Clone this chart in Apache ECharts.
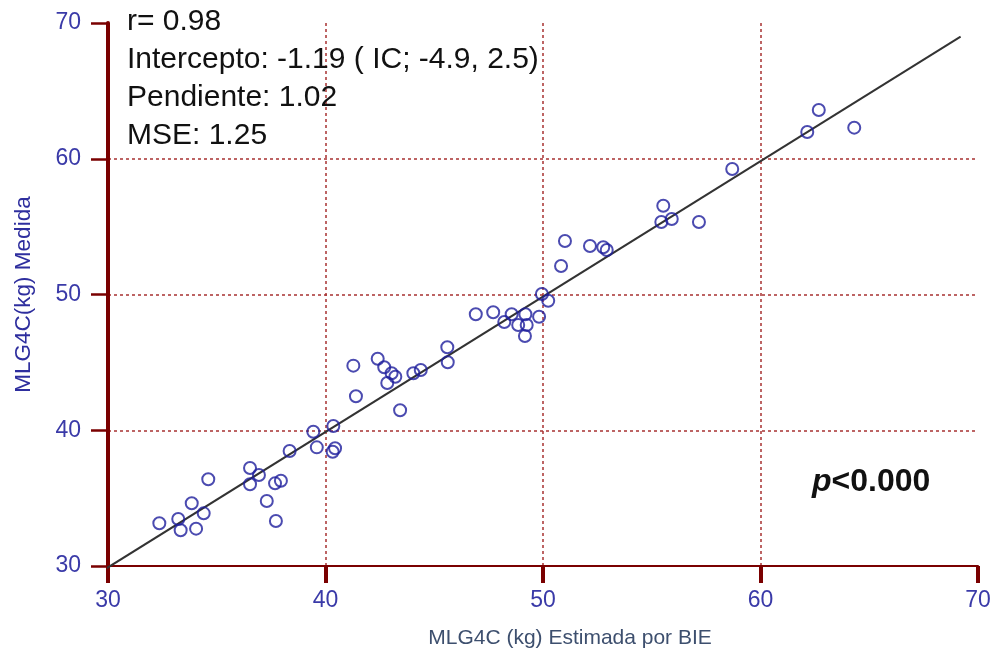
<!DOCTYPE html>
<html>
<head>
<meta charset="utf-8">
<title>MLG4C</title>
<script src="https://cdn.jsdelivr.net/npm/echarts@6/dist/echarts.min.js"></script>
<style>
  html, body { margin: 0; padding: 0; background: #fff; }
  #chart { width: 995px; height: 656px; }
</style>
</head>
<body>
<div id="chart"></div>
<script>
// MLG4C estimada por BIE (x) vs medida (y)
var estimada = [
  32.36, 33.23, 33.34, 33.85, 34.05, 34.40, 34.61, 36.53, 36.53, 36.94,
  37.30, 37.68, 37.95, 37.72, 38.35, 39.44, 39.60, 40.36, 40.33, 40.44,
  41.28, 41.40, 42.40, 42.70, 43.04, 42.84, 43.21, 43.43, 44.04, 44.38,
  45.60, 45.62, 46.91, 47.71, 48.22, 48.56, 48.86, 49.19, 49.25, 49.17,
  49.82, 49.95, 50.24, 51.01, 50.83, 52.16, 52.77, 52.93, 55.53, 55.44,
  55.92, 57.17, 58.70, 62.15, 62.68, 64.31
];
var medida = [
  33.15, 33.46, 32.63, 34.62, 32.75, 33.88, 36.39, 37.22, 36.02, 36.70,
  34.79, 36.09, 36.28, 33.31, 38.47, 39.89, 38.74, 40.31, 38.42, 38.67,
  44.76, 42.50, 45.27, 44.64, 44.20, 43.48, 43.94, 41.47, 44.20, 44.44,
  46.11, 45.01, 48.54, 48.69, 47.97, 48.54, 47.75, 48.54, 47.75, 46.94,
  48.36, 50.04, 49.54, 53.94, 52.10, 53.57, 53.48, 53.28, 56.54, 55.34,
  55.56, 55.34, 59.25, 61.97, 63.59, 62.29
];
// recta de regresion (extremos)
var lineaX = [29.7, 69.2];
var lineaY = [29.6, 69.0];
var estadisticos = [
  "r= 0.98",
  "Intercepto: -1.19 ( IC; -4.9, 2.5)",
  "Pendiente: 1.02",
  "MSE: 1.25"
];

var puntos = [];
for (var i = 0; i < estimada.length; i++) {
  puntos.push([estimada[i], medida[i]]);
}
var recta = [];
for (var j = 0; j < lineaX.length; j++) {
  recta.push([lineaX[j], lineaY[j]]);
}

var axisRed = "#7a0000";
var gridRed = "#a83232";
var labelBlue = "#3a3aa8";
var sans = "'Liberation Sans', Arial, sans-serif";

var chart = echarts.init(document.getElementById("chart"));
var option = {
  animation: false,
  backgroundColor: "#fff",
  grid: {
    left: 108,
    right: 17,
    top: 23,
    bottom: 90,
    containLabel: false,
    outerBoundsMode: "none"
  },
  xAxis: {
    type: "value",
    min: 30,
    max: 70,
    interval: 10,
    name: "MLG4C (kg) Estimada por BIE",
    nameLocation: "middle",
    nameGap: 62,
    nameTextStyle: {
      color: "#3d4f6e",
      fontFamily: sans,
      fontSize: 21,
      padding: [0, 0, 0, 54]
    },
    axisLine: { show: true, lineStyle: { color: axisRed, width: 2 } },
    axisTick: { show: true, length: 17, lineStyle: { color: axisRed, width: 4 } },
    axisLabel: {
      color: labelBlue,
      fontFamily: sans,
      fontSize: 23,
      margin: 23
    },
    splitLine: {
      show: true,
      showMinLine: false,
      showMaxLine: false,
      lineStyle: { color: gridRed, width: 1.5, type: [3, 3] }
    }
  },
  yAxis: {
    type: "value",
    min: 30,
    max: 70,
    interval: 10,
    name: "MLG4C(kg) Medida",
    nameLocation: "middle",
    nameGap: 73,
    nameTextStyle: {
      color: "#2e2e9e",
      fontFamily: sans,
      fontSize: 22.5
    },
    axisLine: { show: true, lineStyle: { color: axisRed, width: 4 } },
    axisTick: { show: true, length: 17, lineStyle: { color: axisRed, width: 2.5 } },
    axisLabel: {
      color: labelBlue,
      fontFamily: sans,
      fontSize: 23,
      margin: 27
    },
    splitLine: {
      show: true,
      showMinLine: false,
      showMaxLine: false,
      lineStyle: { color: gridRed, width: 1.5, type: [3, 3] }
    }
  },
  graphic: [
    {
      type: "text",
      left: 127,
      top: 3,
      z: 100,
      style: {
        text: estadisticos.join("\n"),
        fill: "#111",
        font: "30px " + sans,
        lineHeight: 38
      }
    },
    {
      type: "text",
      left: 812,
      top: 466,
      z: 100,
      style: {
        text: "{p|p}{r|<0.000}",
        rich: {
          p: { fill: "#111", font: "italic bold 32px " + sans },
          r: { fill: "#111", font: "bold 32px " + sans }
        }
      }
    }
  ],
  series: [
    {
      name: "Regresion",
      type: "line",
      data: recta,
      symbol: "none",
      clip: false,
      silent: true,
      z: 3,
      lineStyle: { color: "#333", width: 2 }
    },
    {
      name: "MLG4C",
      type: "scatter",
      data: puntos,
      symbol: "circle",
      symbolSize: 12,
      z: 4,
      itemStyle: {
        color: "rgba(255,255,255,0)",
        borderColor: "#1e1e9c",
        borderWidth: 2
      }
    }
  ]
};
chart.setOption(option);
</script>
</body>
</html>
